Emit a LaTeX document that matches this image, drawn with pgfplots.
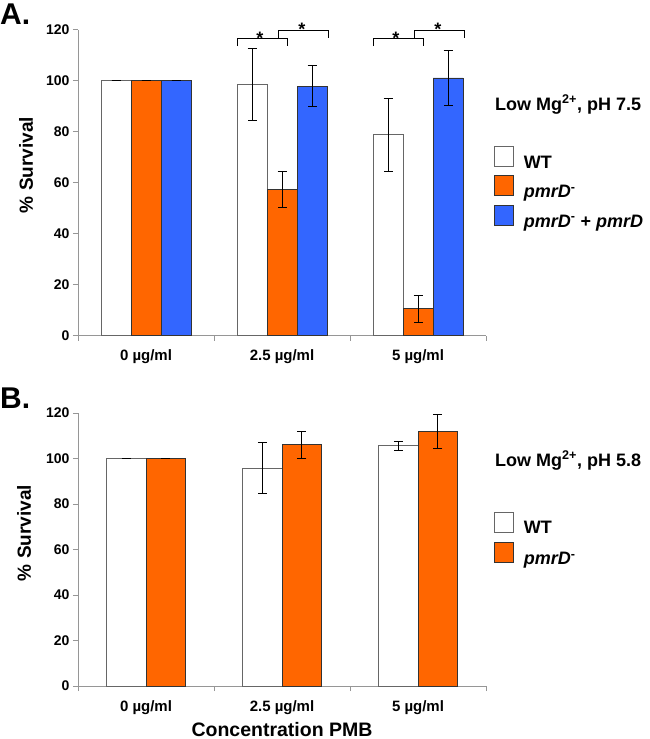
\documentclass[border=0pt]{standalone}
\usepackage{fontspec}
\setmainfont{Liberation Sans}
\usepackage{pgfplots}
\pgfplotsset{compat=1.18}
\usepackage{pgfplotstable}
\definecolor{barorange}{RGB}{255,102,0}
\definecolor{barblue}{RGB}{51,102,255}
\definecolor{axisgray}{RGB}{150,150,150}

% panel A: low Mg2+, pH 7.5
\pgfplotstableread{
x wt   wte  mut  mute comp  compe
0 100  0    100  0    100   0
1 98.5 14   57.3 7    97.8  8
2 78.7 14.3 10.5 5.3  101   10.6
}\dataA
% panel B: low Mg2+, pH 5.8
\pgfplotstableread{
x wt    wte  mut  mute
0 100   0    100  0
1 95.8  11.2 106  5.9
2 105.6 2    112  7.5
}\dataB

\tikzset{
  wtbar/.style={fill=white, draw=black!60, line width=0.9pt},
  mutbar/.style={fill=barorange, draw=black!80, line width=0.9pt},
  compbar/.style={fill=barblue, draw=black!80, line width=0.9pt},
  bracket/.style={black, line width=0.9pt},
  star/.style={anchor=base, inner sep=0pt, font=\fontsize{18}{20}\selectfont\bfseries},
}

\pgfplotsset{
  survival/.style={
    scale only axis, width=408pt,
    xmin=-0.5, xmax=2.5, ymin=0, ymax=120,
    ytick={0,20,...,120},
    xtick={0,1,2},
    xticklabels={0 µg/ml, 2.5 µg/ml, 5 µg/ml},
    minor xtick={-0.5,0.5,1.5,2.5},
    major x tick style={draw=none},
    minor x tick style={axisgray, line width=1pt},
    axis lines*=left, axis line style={axisgray, line width=1pt, -},
    tick align=outside, major tick length=5pt, minor tick length=5pt,
    major y tick style={axisgray, line width=1pt},
    yticklabel style={font=\fontsize{14}{16}\selectfont\bfseries},
    xticklabel style={font=\fontsize{15}{17}\selectfont\bfseries, yshift=-6pt},
    /pgf/number format/assume math mode=true,
    ybar=0pt, clip=false,
    error bars/y dir=both, error bars/y explicit,
    error bars/error bar style={black, line width=0.9pt},
    error bars/error mark options={black, line width=0.9pt, mark size=4.5pt, rotate=90},
    legend cell align=left,
    legend style={draw=none, fill=none, inner sep=0pt, outer sep=0pt,
      anchor=north west, column sep=10pt, row sep=5.5pt,
      font=\fontsize{18}{20}\selectfont\bfseries,
      nodes={inner sep=0pt}},
    legend image code/.code={\draw[#1] (0pt,-3.5pt) rectangle (19pt,16.5pt);},
  },
}

\begin{document}
\begin{tikzpicture}
\useasboundingbox (0,0) rectangle (650pt,-739pt);

% ---------- A ----------
\begin{axis}[survival, height=306pt, bar width=30pt,
  at={(78pt,-335.5pt)}, anchor=south west,
  legend style={at={(rel axis cs:1.0196,0.619)}}]
  \addplot[wtbar] table[x=x, y=wt, y error=wte] {\dataA};
  \addplot[mutbar] table[x=x, y=mut, y error=mute] {\dataA};
  \addplot[compbar] table[x=x, y=comp, y error=compe] {\dataA};
  \legend{WT, \textit{pmrD}\textsuperscript{-}, \textit{pmrD}\textsuperscript{-} + \textit{pmrD}}
  % significance brackets, 2.5 ug/ml
  \draw[bracket] (axis cs:0.669,113.5) |- (axis cs:1.037,116.3) -- (axis cs:1.037,113.5);
  \draw[bracket] (axis cs:0.971,116.7) |- (axis cs:1.338,119.8) -- (axis cs:1.338,116.7);
  \node[star] at (axis cs:0.838,114.2) {*};
  \node[star] at (axis cs:1.147,117.8) {*};
  % significance brackets, 5 ug/ml
  \draw[bracket] (axis cs:1.669,113.5) |- (axis cs:2.037,116.3) -- (axis cs:2.037,113.5);
  \draw[bracket] (axis cs:1.971,116.7) |- (axis cs:2.338,119.8) -- (axis cs:2.338,116.7);
  \node[star] at (axis cs:1.838,114.2) {*};
  \node[star] at (axis cs:2.147,117.8) {*};
\end{axis}

% ---------- B ----------
\begin{axis}[survival, height=273pt, bar width=39.5pt,
  at={(78pt,-686pt)}, anchor=south west,
  legend style={at={(rel axis cs:1.0196,0.639)}, row sep=6.5pt}]
  \addplot[wtbar] table[x=x, y=wt, y error=wte] {\dataB};
  \addplot[mutbar] table[x=x, y=mut, y error=mute] {\dataB};
  \legend{WT, \textit{pmrD}\textsuperscript{-}}
\end{axis}

% panel letters, titles and axis labels
\node[anchor=base west, inner sep=0pt, font=\fontsize{30}{32}\selectfont\bfseries] at (0pt,-24pt) {A.};
\node[anchor=base west, inner sep=0pt, font=\fontsize{30}{32}\selectfont\bfseries] at (0pt,-408pt) {B.};
\node[anchor=base west, inner sep=0pt, font=\fontsize{18}{20}\selectfont\bfseries] at (495pt,-110pt) {Low Mg\textsuperscript{2+}, pH 7.5};
\node[anchor=base west, inner sep=0pt, font=\fontsize{18}{20}\selectfont\bfseries] at (495pt,-466pt) {Low Mg\textsuperscript{2+}, pH 5.8};
\node[rotate=90, inner sep=0pt, font=\fontsize{19}{21}\selectfont\bfseries] at (26pt,-165pt) {\% Survival};
\node[rotate=90, inner sep=0pt, font=\fontsize{19}{21}\selectfont\bfseries] at (24pt,-533pt) {\% Survival};
\node[anchor=base, inner sep=0pt, font=\fontsize{19.5}{21}\selectfont\bfseries] at (282pt,-736pt) {Concentration PMB};
\end{tikzpicture}
\end{document}
